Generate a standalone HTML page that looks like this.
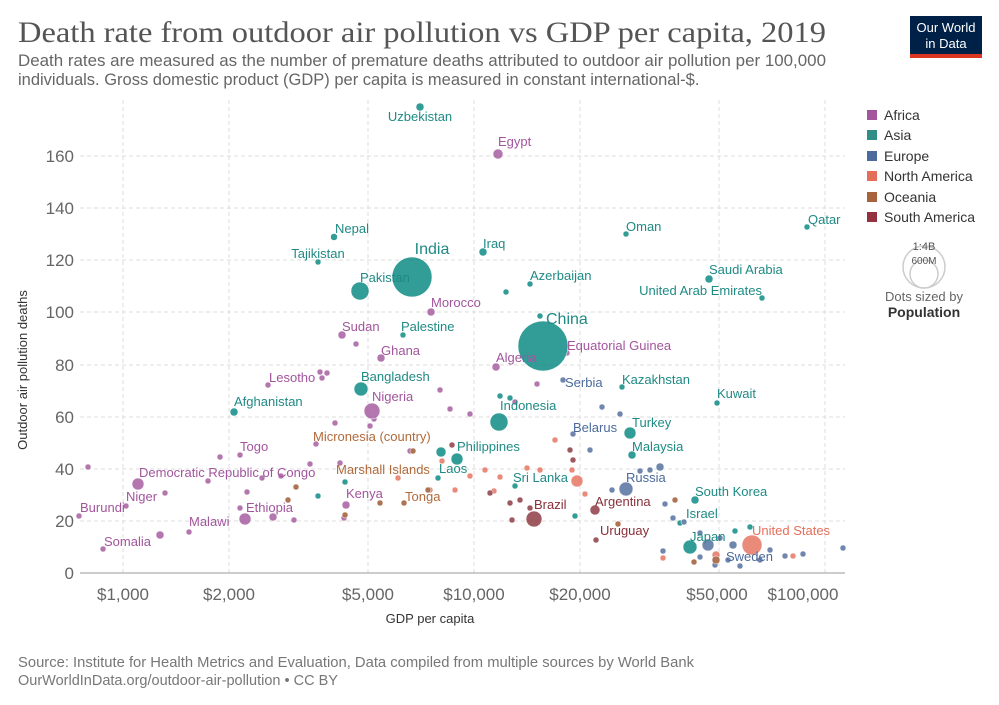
<!DOCTYPE html>
<html><head><meta charset="utf-8"><style>
body{margin:0;background:#fff;}
svg{display:block;font-family:"Liberation Sans",sans-serif;}
</style></head><body>
<svg width="999" height="705" viewBox="0 0 999 705">
<text x="18" y="42" font-family="Liberation Serif,serif" font-size="30" fill="#555" textLength="808" lengthAdjust="spacingAndGlyphs">Death rate from outdoor air pollution vs GDP per capita, 2019</text>
<text x="18" y="66" font-size="16.5" fill="#666" textLength="808" lengthAdjust="spacingAndGlyphs">Death rates are measured as the number of premature deaths attributed to outdoor air pollution per 100,000</text>
<text x="18" y="85" font-size="16.5" fill="#666">individuals. Gross domestic product (GDP) per capita is measured in constant international-$.</text>
<rect x="910" y="16" width="72" height="38" fill="#002147"/>
<rect x="910" y="54" width="72" height="4" fill="#dc3522"/>
<text x="946" y="32" font-size="13" fill="#fff" text-anchor="middle">Our World</text>
<text x="946" y="48" font-size="13" fill="#fff" text-anchor="middle">in Data</text>
<g stroke="#ddd" stroke-dasharray="4,3" stroke-width="1">
<line x1="80" x2="845" y1="521" y2="521"/><line x1="80" x2="845" y1="469" y2="469"/><line x1="80" x2="845" y1="417" y2="417"/><line x1="80" x2="845" y1="365" y2="365"/><line x1="80" x2="845" y1="312" y2="312"/><line x1="80" x2="845" y1="260" y2="260"/><line x1="80" x2="845" y1="208" y2="208"/><line x1="80" x2="845" y1="156" y2="156"/>
<line x1="123" x2="123" y1="100" y2="573"/><line x1="229" x2="229" y1="100" y2="573"/><line x1="368" x2="368" y1="100" y2="573"/><line x1="474" x2="474" y1="100" y2="573"/><line x1="580" x2="580" y1="100" y2="573"/><line x1="719" x2="719" y1="100" y2="573"/><line x1="825" x2="825" y1="100" y2="573"/>
</g>
<line x1="80" x2="845" y1="573" y2="573" stroke="#999"/>
<g font-size="17" fill="#666" text-anchor="end">
<text x="74" y="579">0</text><text x="74" y="527">20</text><text x="74" y="475">40</text><text x="74" y="423">60</text><text x="74" y="371">80</text><text x="74" y="318">100</text><text x="74" y="266">120</text><text x="74" y="214">140</text><text x="74" y="162">160</text>
</g>
<g font-size="17" fill="#666" text-anchor="middle">
<text x="123" y="600">$1,000</text><text x="229" y="600">$2,000</text><text x="368" y="600">$5,000</text><text x="474" y="600">$10,000</text><text x="580" y="600">$20,000</text><text x="717" y="600">$50,000</text><text x="803" y="600">$100,000</text>
</g>
<text x="430" y="623" font-size="13" fill="#333" text-anchor="middle">GDP per capita</text>
<text transform="translate(27,370) rotate(-90)" font-size="13" fill="#333" text-anchor="middle">Outdoor air pollution deaths</text>
<g opacity="0.8" stroke="#fff" stroke-width="0.5">
<g fill="#a2559c">
<circle cx="88" cy="467" r="3"/><circle cx="165" cy="493" r="3"/><circle cx="208" cy="481" r="3"/><circle cx="247" cy="492" r="3"/><circle cx="262" cy="478" r="3"/><circle cx="281" cy="476" r="3"/><circle cx="294" cy="520" r="3"/><circle cx="310" cy="464" r="3"/><circle cx="327" cy="373" r="3"/><circle cx="335" cy="423" r="3"/><circle cx="340" cy="463" r="3"/><circle cx="356" cy="344" r="3"/><circle cx="374" cy="419" r="3"/><circle cx="410" cy="451" r="3"/><circle cx="450" cy="409" r="3"/><circle cx="470" cy="414" r="3"/><circle cx="515" cy="402" r="3"/><circle cx="537" cy="384" r="3"/><circle cx="555" cy="440" r="3"/><circle cx="160" cy="535" r="4"/><circle cx="220" cy="457" r="3"/><circle cx="268" cy="385" r="3"/><circle cx="322" cy="378" r="3"/><circle cx="240" cy="508" r="3"/><circle cx="344" cy="518" r="3"/><circle cx="370" cy="426" r="3"/><circle cx="316" cy="444" r="3"/><circle cx="440" cy="390" r="3"/>
</g>
<g fill="#00847e">
<circle cx="420" cy="107" r="4"/><circle cx="334" cy="237" r="3.5"/><circle cx="318" cy="262" r="3"/><circle cx="483" cy="252" r="4"/><circle cx="626" cy="234" r="3"/><circle cx="807" cy="227" r="3"/><circle cx="530" cy="284" r="3"/><circle cx="709" cy="279" r="4"/><circle cx="762" cy="298" r="3"/><circle cx="403" cy="335" r="3"/><circle cx="622" cy="387" r="3"/><circle cx="717" cy="403" r="3"/><circle cx="234" cy="412" r="4"/><circle cx="632" cy="455" r="4"/><circle cx="695" cy="500" r="4"/><circle cx="680" cy="523" r="3"/><circle cx="506" cy="292" r="3"/><circle cx="540" cy="316" r="3"/><circle cx="510" cy="398" r="3"/><circle cx="500" cy="396" r="3"/><circle cx="438" cy="478" r="3"/><circle cx="515" cy="486" r="3"/><circle cx="575" cy="516" r="3"/><circle cx="318" cy="496" r="3"/><circle cx="345" cy="482" r="3"/><circle cx="735" cy="531" r="3"/><circle cx="750" cy="527" r="3"/>
</g>
<g fill="#4c6a9c">
<circle cx="563" cy="380" r="3"/><circle cx="573" cy="434" r="3"/><circle cx="602" cy="407" r="3"/><circle cx="620" cy="414" r="3"/><circle cx="660" cy="467" r="4"/><circle cx="650" cy="470" r="3"/><circle cx="640" cy="471" r="3"/><circle cx="612" cy="490" r="3"/><circle cx="665" cy="504" r="3"/><circle cx="673" cy="518" r="3"/><circle cx="684" cy="522" r="3"/><circle cx="700" cy="533" r="3"/><circle cx="720" cy="538" r="3"/><circle cx="733" cy="545" r="4"/><circle cx="708" cy="545" r="6"/><circle cx="663" cy="551" r="3"/><circle cx="700" cy="557" r="3"/><circle cx="715" cy="565" r="3"/><circle cx="728" cy="560" r="3"/><circle cx="748" cy="549" r="3"/><circle cx="770" cy="550" r="3"/><circle cx="785" cy="556" r="3"/><circle cx="803" cy="554" r="3"/><circle cx="843" cy="548" r="3"/><circle cx="760" cy="560" r="3"/><circle cx="740" cy="566" r="3"/><circle cx="590" cy="450" r="3"/>
</g>
<g fill="#e56e5a">
<circle cx="470" cy="476" r="3"/><circle cx="485" cy="470" r="3"/><circle cx="500" cy="477" r="3"/><circle cx="527" cy="468" r="3"/><circle cx="555" cy="440" r="3"/><circle cx="572" cy="470" r="3"/><circle cx="585" cy="494" r="3"/><circle cx="442" cy="461" r="3"/><circle cx="455" cy="490" r="3"/><circle cx="398" cy="478" r="3"/><circle cx="663" cy="558" r="3"/><circle cx="716" cy="555" r="4"/><circle cx="793" cy="556" r="3"/><circle cx="430" cy="490" r="3"/><circle cx="494" cy="491" r="3"/><circle cx="540" cy="470" r="3"/>
</g>
<g fill="#9a5129">
<circle cx="345" cy="515" r="3"/><circle cx="380" cy="503" r="3"/><circle cx="404" cy="503" r="3"/><circle cx="428" cy="490" r="3"/><circle cx="413" cy="451" r="3"/><circle cx="296" cy="487" r="3"/><circle cx="288" cy="500" r="3"/><circle cx="618" cy="524" r="3"/><circle cx="694" cy="562" r="3"/><circle cx="716" cy="560" r="4"/><circle cx="675" cy="500" r="3"/>
</g>
<g fill="#883039">
<circle cx="596" cy="540" r="3"/><circle cx="510" cy="503" r="3"/><circle cx="520" cy="500" r="3"/><circle cx="512" cy="520" r="3"/><circle cx="490" cy="493" r="3"/><circle cx="452" cy="445" r="3"/><circle cx="530" cy="508" r="3"/><circle cx="570" cy="450" r="3"/><circle cx="573" cy="460" r="3"/>
</g>
<circle cx="498" cy="154" r="5" fill="#a2559c"/>
<circle cx="431" cy="312" r="4" fill="#a2559c"/>
<circle cx="342" cy="335" r="4" fill="#a2559c"/>
<circle cx="567" cy="353" r="3" fill="#a2559c"/>
<circle cx="381" cy="358" r="4" fill="#a2559c"/>
<circle cx="496" cy="367" r="4" fill="#a2559c"/>
<circle cx="320" cy="372" r="3" fill="#a2559c"/>
<circle cx="240" cy="455" r="3" fill="#a2559c"/>
<circle cx="138" cy="484" r="6" fill="#a2559c"/>
<circle cx="126" cy="506" r="3" fill="#a2559c"/>
<circle cx="346" cy="505" r="4" fill="#a2559c"/>
<circle cx="245" cy="519" r="6" fill="#a2559c"/>
<circle cx="273" cy="517" r="4" fill="#a2559c"/>
<circle cx="79" cy="516" r="3" fill="#a2559c"/>
<circle cx="189" cy="532" r="3" fill="#a2559c"/>
<circle cx="103" cy="549" r="3" fill="#a2559c"/>
<circle cx="372" cy="411" r="8" fill="#a2559c"/>
<circle cx="412" cy="277" r="20" fill="#00847e"/>
<circle cx="543" cy="346" r="25" fill="#00847e"/>
<circle cx="360" cy="291" r="9" fill="#00847e"/>
<circle cx="361" cy="389" r="7" fill="#00847e"/>
<circle cx="499" cy="422" r="9" fill="#00847e"/>
<circle cx="630" cy="433" r="6" fill="#00847e"/>
<circle cx="457" cy="459" r="6" fill="#00847e"/>
<circle cx="441" cy="452" r="5" fill="#00847e"/>
<circle cx="690" cy="547" r="7" fill="#00847e"/>
<circle cx="626" cy="489" r="7" fill="#4c6a9c"/>
<circle cx="577" cy="481" r="6" fill="#e56e5a"/>
<circle cx="752" cy="545" r="10" fill="#e56e5a"/>
<circle cx="595" cy="510" r="5" fill="#883039"/>
<circle cx="534" cy="519" r="8" fill="#883039"/>
</g>
<g font-size="13">
<g fill="#1f8a84">
<text x="420" y="121" text-anchor="middle">Uzbekistan</text>
<text x="352" y="233" text-anchor="middle">Nepal</text>
<text x="318" y="258" text-anchor="middle">Tajikistan</text>
<text x="432" y="254" text-anchor="middle" font-size="16">India</text>
<text x="483" y="248">Iraq</text>
<text x="626" y="231">Oman</text>
<text x="808" y="224">Qatar</text>
<text x="360" y="282">Pakistan</text>
<text x="530" y="280">Azerbaijan</text>
<text x="709" y="274">Saudi Arabia</text>
<text x="762" y="295" text-anchor="end">United Arab Emirates</text>
<text x="401" y="331">Palestine</text>
<text x="546" y="324" font-size="16">China</text>
<text x="622" y="384">Kazakhstan</text>
<text x="717" y="398">Kuwait</text>
<text x="234" y="406">Afghanistan</text>
<text x="500" y="410">Indonesia</text>
<text x="632" y="427">Turkey</text>
<text x="457" y="451">Philippines</text>
<text x="632" y="451">Malaysia</text>
<text x="439" y="473">Laos</text>
<text x="513" y="482">Sri Lanka</text>
<text x="695" y="496">South Korea</text>
<text x="686" y="518">Israel</text>
<text x="690" y="541">Japan</text>
<text x="361" y="381">Bangladesh</text>
</g>
<g fill="#a2559c">
<text x="498" y="146">Egypt</text>
<text x="431" y="307">Morocco</text>
<text x="342" y="331">Sudan</text>
<text x="567" y="350">Equatorial Guinea</text>
<text x="381" y="355">Ghana</text>
<text x="496" y="362">Algeria</text>
<text x="269" y="382">Lesotho</text>
<text x="372" y="401">Nigeria</text>
<text x="240" y="451">Togo</text>
<text x="139" y="477">Democratic Republic of Congo</text>
<text x="126" y="501">Niger</text>
<text x="346" y="498">Kenya</text>
<text x="246" y="512">Ethiopia</text>
<text x="80" y="512">Burundi</text>
<text x="189" y="526">Malawi</text>
<text x="104" y="546">Somalia</text>
</g>
<g fill="#4c6a9c">
<text x="565" y="387">Serbia</text>
<text x="573" y="432">Belarus</text>
<text x="626" y="482">Russia</text>
<text x="726" y="561">Sweden</text>
</g>
<g fill="#b16a3a">
<text x="313" y="441">Micronesia (country)</text>
<text x="336" y="474">Marshall Islands</text>
<text x="405" y="501">Tonga</text>
</g>
<g fill="#883039">
<text x="595" y="506">Argentina</text>
<text x="534" y="509">Brazil</text>
<text x="600" y="535">Uruguay</text>
</g>
<text x="752" y="535" fill="#e56e5a">United States</text>
</g>
<g font-size="14" fill="#333">
<rect x="867" y="110" width="10" height="10" fill="#a2559c"/><text x="884" y="120">Africa</text>
<rect x="867" y="130" width="10" height="10" fill="#2f8f88"/><text x="884" y="140">Asia</text>
<rect x="867" y="151" width="10" height="10" fill="#4c6a9c"/><text x="884" y="161">Europe</text>
<rect x="867" y="171" width="10" height="10" fill="#e56e5a"/><text x="884" y="181">North America</text>
<rect x="867" y="192" width="10" height="10" fill="#a8633c"/><text x="884" y="202">Oceania</text>
<rect x="867" y="212" width="10" height="10" fill="#93323e"/><text x="884" y="222">South America</text>
</g>
<circle cx="924" cy="267" r="21" fill="none" stroke="#ccc" stroke-width="1.5"/>
<circle cx="924" cy="274" r="14" fill="none" stroke="#ccc" stroke-width="1.5"/>
<text x="924" y="250" font-size="11" fill="#555" text-anchor="middle">1:4B</text>
<text x="924" y="264" font-size="10" fill="#555" text-anchor="middle">600M</text>
<text x="924" y="301" font-size="13" fill="#666" text-anchor="middle">Dots sized by</text>
<text x="924" y="317" font-size="14" font-weight="bold" fill="#333" text-anchor="middle">Population</text>
<text x="18" y="667" font-size="14.5" fill="#777" textLength="676" lengthAdjust="spacingAndGlyphs">Source: Institute for Health Metrics and Evaluation, Data compiled from multiple sources by World Bank</text>
<text x="18" y="685" font-size="14.5" fill="#777">OurWorldInData.org/outdoor-air-pollution • CC BY</text>
</svg>
</body></html>
